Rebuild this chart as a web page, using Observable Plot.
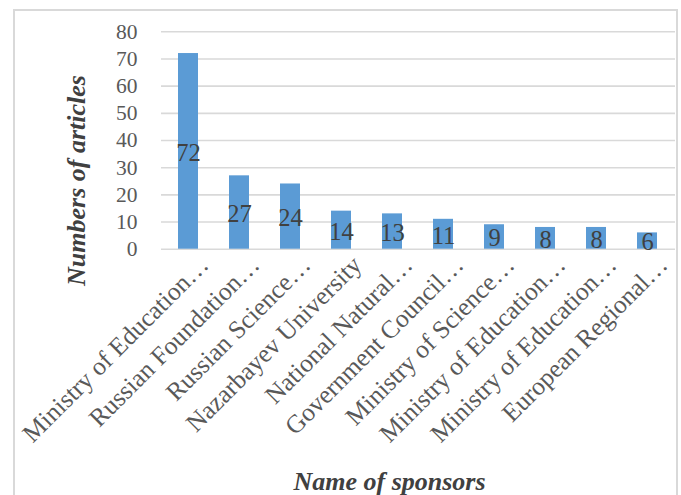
<!DOCTYPE html>
<html>
<head>
<meta charset="utf-8">
<script src="https://cdn.jsdelivr.net/npm/d3@7"></script>
<script src="https://cdn.jsdelivr.net/npm/@observablehq/plot@0.6"></script>
<style>
  html, body { margin: 0; padding: 0; background: #fff; overflow: hidden; width: 681px; height: 495px; }
  #frame { position: absolute; left: 13px; top: 9px; width: 661px; height: 520px; border: 2px solid #d9d9d9; }
  #chart { position: absolute; left: 0; top: 0; }
  #chart svg, #chart svg text { font-family: "Liberation Serif", "Times New Roman", serif !important; }
</style>
</head>
<body>
<div id="frame"></div>
<div id="chart"></div>
<script>
const sponsors = [
  "Ministry of Education…",
  "Russian Foundation…",
  "Russian Science…",
  "Nazarbayev University",
  "National Natural…",
  "Government Council…",
  "Ministry of Science…",
  "Ministry of Education…",
  "Ministry of Education…",
  "European Regional…"
];
const articles = [72, 27, 24, 14, 13, 11, 9, 8, 8, 6];
const yTicks = [0, 10, 20, 30, 40, 50, 60, 70, 80];
const yTitle = "Numbers of articles";
const xTitle = "Name of sponsors";

const data = sponsors.map((s, i) => ({i, sponsor: s, n: articles[i]}));

const chart = Plot.plot({
  width: 681,
  height: 495,
  marginLeft: 161,
  marginRight: 6,
  marginTop: 31.3,
  marginBottom: 246.3,
  x: {type: "band", domain: d3.range(sponsors.length), paddingInner: 0.6, paddingOuter: 0.3, axis: null},
  y: {domain: [0, 80], axis: null},
  style: {background: "transparent"},
  marks: [
    Plot.ruleY(yTicks, {stroke: "#d9d9d9", strokeWidth: 1.6}),
    Plot.barY(data, {x: "i", y: "n", fill: "#5b9bd5"}),
    Plot.text(data, {x: "i", y: d => d.n / 2, text: d => String(d.n), lineAnchor: "middle", dy: 1.5, fontSize: 24.5, fill: "#404040"}),
    Plot.text(yTicks, {y: d => d, frameAnchor: "left", textAnchor: "end", lineAnchor: "middle", dx: -24, fontSize: 21.5, fill: "#595959"}),
    Plot.text(data, {x: "i", frameAnchor: "bottom", text: "sponsor", rotate: -45, textAnchor: "end", lineAnchor: "bottom", dx: 21.5, dy: 17.3, fontSize: 25.5, fill: "#595959"}),
    Plot.text([yTitle], {frameAnchor: "left", rotate: -90, textAnchor: "middle", lineAnchor: "bottom", dx: -77, dy: 40, fontSize: 26, fontWeight: "bold", fontStyle: "italic", fill: "#404040"}),
    Plot.text([xTitle], {frameAnchor: "bottom", textAnchor: "middle", lineAnchor: "bottom", dx: -29, dy: 240.3, fontSize: 26, fontWeight: "bold", fontStyle: "italic", fill: "#404040"})
  ]
});
document.getElementById("chart").appendChild(chart);
</script>
</body>
</html>
